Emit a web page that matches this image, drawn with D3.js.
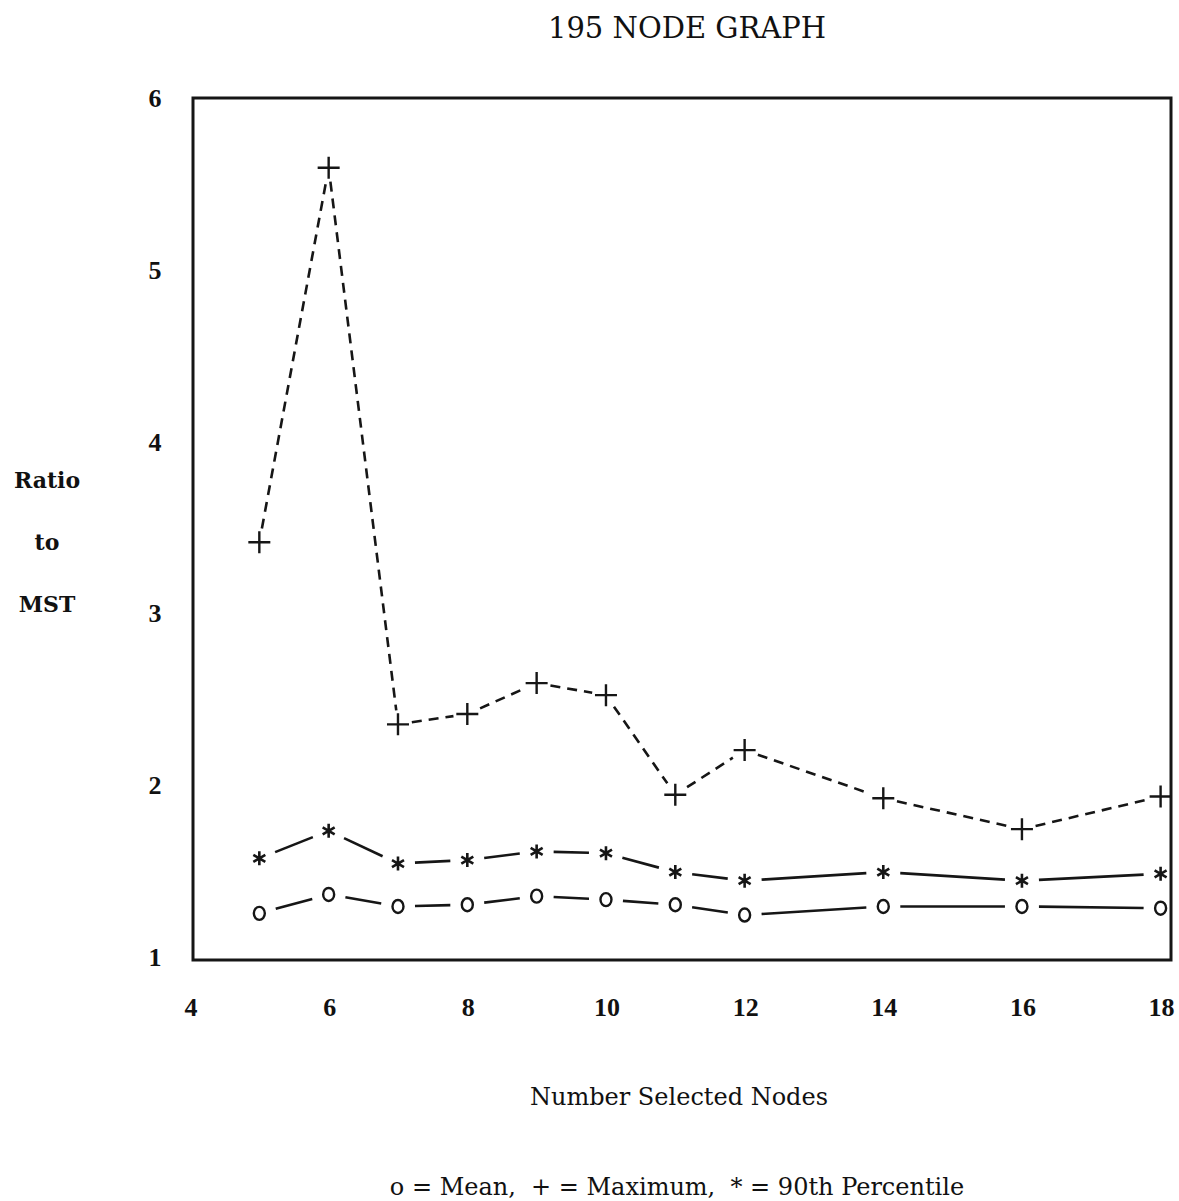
<!DOCTYPE html>
<meta charset="utf-8">
<head>
<script src="https://d3js.org/d3.v7.min.js"></script>
<style>
  body { margin: 0; background: #fff; }
  text { font-family: "DejaVu Serif", "Liberation Serif", serif; fill: #111; white-space: pre; }
</style>
</head>
<body>
<svg id="chart" width="1179" height="1201"></svg>
<script>
// data
var nodes = [5, 6, 7, 8, 9, 10, 11, 12, 14, 16, 18];
var maximum = [3.42, 5.60, 2.36, 2.42, 2.60, 2.53, 1.95, 2.21, 1.93, 1.75, 1.94];
var pct90 = [1.58, 1.74, 1.55, 1.57, 1.62, 1.61, 1.50, 1.45, 1.50, 1.45, 1.49];
var mean = [1.26, 1.37, 1.30, 1.31, 1.36, 1.34, 1.31, 1.25, 1.30, 1.30, 1.29];
var xTicks = [4, 6, 8, 10, 12, 14, 16, 18];
var yTicks = [1, 2, 3, 4, 5, 6];

var svg = d3.select("#chart");

var x = d3.scaleLinear().domain([4, 18.15]).range([190, 1171]);
var y = d3.scaleLinear().domain([1, 6]).range([958, 99]);

// frame
svg.append("rect")
  .attr("x", 193).attr("y", 98)
  .attr("width", 1171 - 193).attr("height", 960 - 98)
  .attr("fill", "none").attr("stroke", "#161616").attr("stroke-width", 3);

// title and labels
svg.append("text")
  .attr("x", 687).attr("y", 38)
  .attr("text-anchor", "middle")
  .style("font-size", "29px")
  .text("195 NODE GRAPH");

svg.selectAll(".ytick")
  .data(yTicks)
  .enter().append("text")
  .attr("class", "ytick")
  .attr("x", 155).attr("y", function(d) { return y(d) + 8; })
  .attr("text-anchor", "middle")
  .style("font-family", "Liberation Serif")
  .style("font-size", "26px").style("font-weight", "bold")
  .text(function(d) { return d; });

svg.selectAll(".xtick")
  .data(xTicks)
  .enter().append("text")
  .attr("class", "xtick")
  .attr("x", function(d) { return x(d) + 1; }).attr("y", 1016)
  .attr("text-anchor", "middle")
  .style("font-family", "Liberation Serif")
  .style("font-size", "26px").style("font-weight", "bold")
  .text(function(d) { return d; });

var ylab = ["Ratio", "to", "MST"];
svg.selectAll(".ylab")
  .data(ylab)
  .enter().append("text")
  .attr("class", "ylab")
  .attr("x", 47).attr("y", function(d, i) { return 488 + i * 62; })
  .attr("text-anchor", "middle")
  .style("font-size", "22px").style("font-weight", "bold")
  .text(function(d) { return d; });

svg.append("text")
  .attr("x", 679).attr("y", 1105)
  .attr("text-anchor", "middle")
  .style("font-size", "24px")
  .text("Number Selected Nodes");

svg.append("text")
  .attr("x", 677).attr("y", 1195)
  .attr("text-anchor", "middle")
  .style("font-size", "24px")
  .text("o = Mean,  + = Maximum,  * = 90th Percentile");

// segments between points, trimmed so they stop short of the markers
function segments(vals, gap) {
  var out = [];
  for (var i = 0; i < vals.length - 1; i++) {
    var x1 = x(nodes[i]), y1 = y(vals[i]), x2 = x(nodes[i + 1]), y2 = y(vals[i + 1]);
    var len = Math.hypot(x2 - x1, y2 - y1), ux = (x2 - x1) / len, uy = (y2 - y1) / len;
    out.push({ x1: x1 + ux * gap, y1: y1 + uy * gap, x2: x2 - ux * gap, y2: y2 - uy * gap });
  }
  return out;
}

function drawLine(vals, dash, gap) {
  svg.append("g").selectAll("line")
    .data(segments(vals, gap))
    .enter().append("line")
    .attr("x1", function(d) { return d.x1; }).attr("y1", function(d) { return d.y1; })
    .attr("x2", function(d) { return d.x2; }).attr("y2", function(d) { return d.y2; })
    .attr("stroke", "#161616").attr("stroke-width", 2.6)
    .attr("stroke-dasharray", dash);
}

drawLine(maximum, "10,7", 14);
drawLine(pct90, null, 17);
drawLine(mean, null, 17);

// markers
svg.append("g").selectAll("path")
  .data(maximum)
  .enter().append("path")
  .attr("transform", function(d, i) { return "translate(" + x(nodes[i]) + "," + y(d) + ")"; })
  .attr("d", "M-11,0H11M0,-11V11")
  .attr("stroke", "#161616").attr("stroke-width", 2.4);

svg.append("g").selectAll("path")
  .data(pct90)
  .enter().append("path")
  .attr("transform", function(d, i) { return "translate(" + x(nodes[i]) + "," + y(d) + ")"; })
  .attr("d", "M0,-7V7M-6,-3.5L6,3.5M-6,3.5L6,-3.5")
  .attr("stroke", "#161616").attr("stroke-width", 2.6);

svg.append("g").selectAll("ellipse")
  .data(mean)
  .enter().append("ellipse")
  .attr("cx", function(d, i) { return x(nodes[i]); })
  .attr("cy", function(d) { return y(d); })
  .attr("rx", 5.5).attr("ry", 6.5)
  .attr("fill", "none").attr("stroke", "#161616").attr("stroke-width", 2.4);
</script>
</body>
</html>
